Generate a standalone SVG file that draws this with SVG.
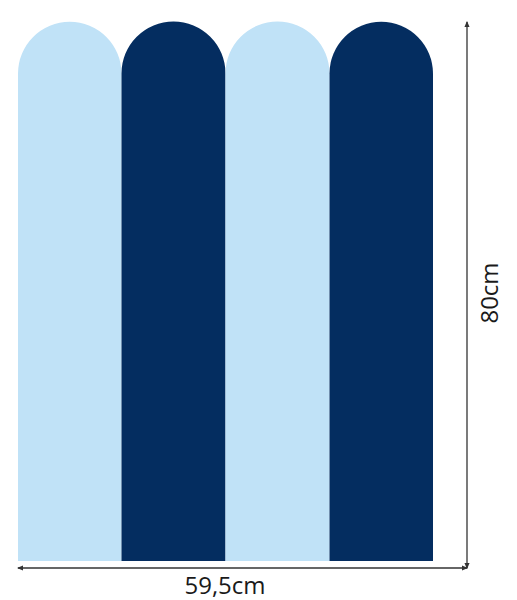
<svg xmlns="http://www.w3.org/2000/svg" width="517" height="600" viewBox="0 0 517 600">
<style>
.l{fill:#c0e2f7}
.d{fill:#042d60}
.dim{stroke:#333;stroke-width:1.3;fill:none}
.t{font-family:"Open Sans","DejaVu Sans",sans-serif;font-size:24px;font-weight:400;fill:#1a1a1a}
</style>
<defs>
<marker id="ah" viewBox="0 0 6 6" refX="5" refY="3" markerWidth="5" markerHeight="5" orient="auto-start-reverse"><path d="M0,0.5 L6,3 L0,5.5 Z" fill="#333"/></marker>
</defs>
<rect width="517" height="600" fill="#fff"/>
<g id="strips">
<path class="l" d="M18,561 V73.5 A51.75,51.75 0 0 1 121.5,73.5 V561 Z"/>
<path class="d" d="M121.5,561 V73.5 A52,52 0 0 1 225.5,73.5 V561 Z"/>
<path class="l" d="M225.5,561 V73.5 A52,52 0 0 1 329.5,73.5 V561 Z"/>
<path class="d" d="M329.5,561 V73.5 A51.75,51.75 0 0 1 433,73.5 V561 Z"/>
</g>
<g id="connectors">
<line class="dim" x1="18" y1="568" x2="467" y2="568" marker-start="url(#ah)" marker-end="url(#ah)"/>
<line class="dim" x1="467" y1="22" x2="467" y2="568" marker-start="url(#ah)" marker-end="url(#ah)"/>
</g>
<text class="t" x="225" y="594" text-anchor="middle">59,5cm</text>
<text class="t" x="0" y="0" text-anchor="middle" transform="translate(498,293) rotate(-90)">80cm</text>
</svg>
